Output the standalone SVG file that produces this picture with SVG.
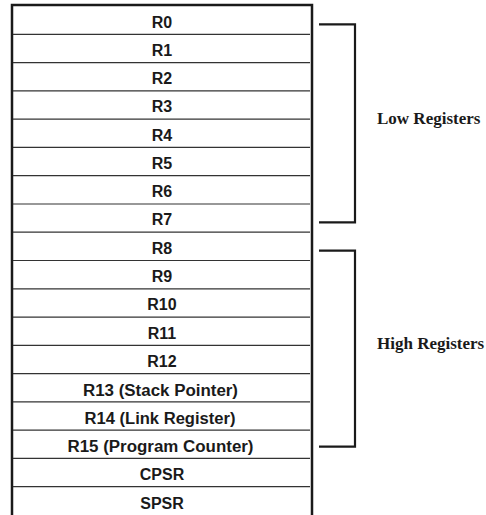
<svg xmlns="http://www.w3.org/2000/svg" width="486" height="515" viewBox="0 0 486 515">
<style>
.reg{font-family:"Liberation Sans",Arial,sans-serif;font-weight:bold;font-size:16px;fill:#1a1a1a;text-anchor:middle}
.lbl{font-family:"Liberation Serif","Times New Roman",serif;font-weight:bold;font-size:17px;fill:#1a1a1a}
.div{stroke:#333;stroke-width:1.2}
.border{stroke:#1a1a1a;stroke-width:2.5;fill:none}
.br{stroke:#1a1a1a;stroke-width:2.2;fill:none}
</style>
<rect width="486" height="515" fill="#fff"/>
<g id="register-file">
<path class="border" d="M12,517 V5 H312 V517"/>
</g>
<g id="rows">
<line class="div" x1="13" y1="34.3" x2="310" y2="34.3"/>
<line class="div" x1="13" y1="62.6" x2="310" y2="62.6"/>
<line class="div" x1="13" y1="90.9" x2="310" y2="90.9"/>
<line class="div" x1="13" y1="119.1" x2="310" y2="119.1"/>
<line class="div" x1="13" y1="147.4" x2="310" y2="147.4"/>
<line class="div" x1="13" y1="175.7" x2="310" y2="175.7"/>
<line class="div" x1="13" y1="204" x2="310" y2="204"/>
<line class="div" x1="13" y1="232.2" x2="310" y2="232.2"/>
<line class="div" x1="13" y1="260.5" x2="310" y2="260.5"/>
<line class="div" x1="13" y1="288.8" x2="310" y2="288.8"/>
<line class="div" x1="13" y1="317.1" x2="310" y2="317.1"/>
<line class="div" x1="13" y1="345.3" x2="310" y2="345.3"/>
<line class="div" x1="13" y1="373.6" x2="310" y2="373.6"/>
<line class="div" x1="13" y1="401.9" x2="310" y2="401.9"/>
<line class="div" x1="13" y1="430.2" x2="310" y2="430.2"/>
<line class="div" x1="13" y1="458.4" x2="310" y2="458.4"/>
<line class="div" x1="13" y1="486.7" x2="310" y2="486.7"/>
</g>
<g id="r0"><text class="reg" x="162" y="27.5">R0</text></g>
<g id="r1"><text class="reg" x="162" y="55.8">R1</text></g>
<g id="r2"><text class="reg" x="162" y="84.1">R2</text></g>
<g id="r3"><text class="reg" x="162" y="112.3">R3</text></g>
<g id="r4"><text class="reg" x="162" y="140.6">R4</text></g>
<g id="r5"><text class="reg" x="162" y="168.9">R5</text></g>
<g id="r6"><text class="reg" x="162" y="197.2">R6</text></g>
<g id="r7"><text class="reg" x="162" y="225.4">R7</text></g>
<g id="r8"><text class="reg" x="162" y="253.7">R8</text></g>
<g id="r9"><text class="reg" x="162" y="282">R9</text></g>
<g id="r10"><text class="reg" x="162" y="310.3">R10</text></g>
<g id="r11"><text class="reg" x="162" y="338.5">R11</text></g>
<g id="r12"><text class="reg" x="162" y="366.8">R12</text></g>
<g id="r13"><text class="reg" x="160.5" y="395.6" textLength="155" lengthAdjust="spacingAndGlyphs">R13 (Stack Pointer)</text></g>
<g id="r14"><text class="reg" x="160" y="423.9" textLength="151" lengthAdjust="spacingAndGlyphs">R14 (Link Register)</text></g>
<g id="r15"><text class="reg" x="160.5" y="452.1" textLength="186" lengthAdjust="spacingAndGlyphs">R15 (Program Counter)</text></g>
<g id="cpsr"><text class="reg" x="162" y="480.4">CPSR</text></g>
<g id="spsr"><text class="reg" x="162" y="508.7">SPSR</text></g>
<g id="connectors">
<path class="br" d="M319,24.3 H355 V222.3 H319"/>
<path class="br" d="M319,250.7 H355 V446.7 H319"/>
</g>
<g id="low-registers"><text class="lbl" x="377" y="124">Low Registers</text></g>
<g id="high-registers"><text class="lbl" x="377" y="349">High Registers</text></g>
</svg>
